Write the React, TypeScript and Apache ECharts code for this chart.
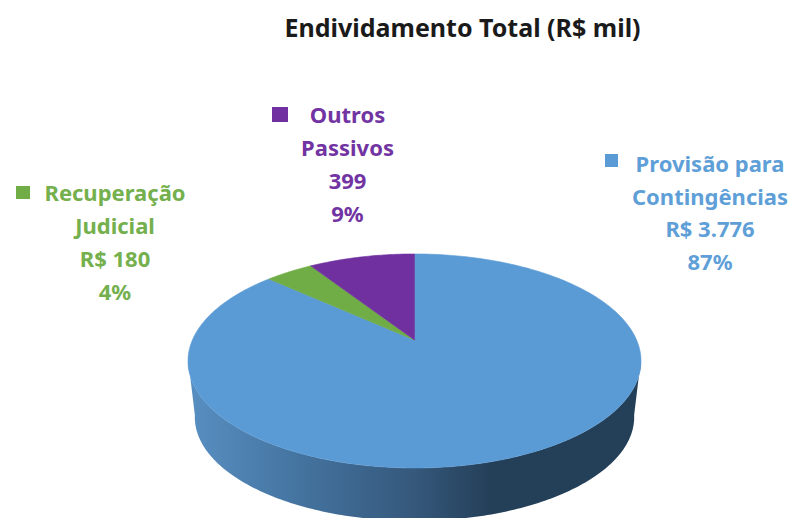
import React, { useEffect, useRef } from "react";
import * as echarts from "echarts";

const titleText = "Endividamento Total (R$ mil)";
const categories = ["Provisão para\nContingências", "Recuperação\nJudicial", "Outros\nPassivos"];
const values = [3776, 180, 399];
const valueLabels = ["R$ 3.776", "R$ 180", "399"];
const percentLabels = ["87%", "4%", "9%"];
const colors = ["#5B9BD5", "#70AD47", "#7030A0"];
const labelColors = ["#5F9FD8", "#74B04D", "#7234A2"];

// Layout of the data labels: centre x, first line centre y, key square
const labelCx = [710, 115, 347.5];
const labelTop = [163, 192, 114];
const keyBox = [
  [605, 154, 13, 13],
  [16, 186, 14, 13],
  [272, 107, 16, 15],
];

// Perspective projection of the unit disc on the screen
const CX = 414.5;
const APEX_Y = 340;
const K = 0.196;
const A = 222.1;
const B = 102.9;
const project = (u: number, v: number, scale = 1, dy = 0) => {
  const w = 1 + K * v;
  return [CX + (scale * A * u) / w, APEX_Y + dy - (scale * B * v) / w];
};

const total = values.reduce((s, v) => s + v, 0);

const renderTop = (params: any, api: any) => {
  const i = params.dataIndex;
  const before = values.slice(0, i).reduce((s, v) => s + v, 0);
  const start = (before / total) * Math.PI * 2;
  const end = ((before + api.value(0)) / total) * Math.PI * 2;
  const steps = Math.max(8, Math.ceil((end - start) * 60));
  const points = [project(0, 0)];
  for (let s = 0; s <= steps; s++) {
    const t = start + ((end - start) * s) / steps;
    points.push(project(Math.sin(t), Math.cos(t)));
  }
  return {
    type: "polygon",
    shape: { points },
    style: { fill: colors[i], stroke: colors[i], lineWidth: 0.6 },
  };
};

const renderSide = () => {
  const from = Math.PI / 2 + Math.asin(K) - 0.02;
  const to = Math.PI * 2 - from;
  const n = 180;
  const upper: number[][] = [];
  const lower: number[][] = [];
  for (let s = 0; s <= n; s++) {
    const t = from + ((to - from) * s) / n;
    upper.push(project(Math.sin(t), Math.cos(t)));
    lower.push(project(Math.sin(t), Math.cos(t), 0.97, 56.8));
  }
  return {
    type: "polygon",
    shape: { points: [...upper, ...lower.reverse()] },
    style: {
      fill: new echarts.graphic.LinearGradient(0, 0, 1, 0, [
        { offset: 0, color: "#588FC2" },
        { offset: 0.25, color: "#44739F" },
        { offset: 0.5, color: "#35587B" },
        { offset: 0.67, color: "#243F58" },
        { offset: 1, color: "#243F58" },
      ]),
    },
  };
};

const LINE_GAP = [32.5, 33, 33];
const FONT = "'Noto Sans', 'Open Sans', sans-serif";

const buildLabels = () => {
  const elements: any[] = [];
  categories.forEach((cat, i) => {
    const lines = [...cat.split("\n"), valueLabels[i], percentLabels[i]];
    lines.forEach((line, j) => {
      elements.push({
        type: "text",
        x: labelCx[i],
        y: labelTop[i] + j * LINE_GAP[i],
        style: {
          text: line,
          fill: labelColors[i],
          font: `bold 22px ${FONT}`,
          textAlign: "center",
          textVerticalAlign: "middle",
        },
      });
    });
    const [x, y, width, height] = keyBox[i];
    elements.push({
      type: "rect",
      shape: { x, y, width, height },
      style: { fill: colors[i] },
    });
  });
  return elements;
};

export default function App() {
  const ref = useRef<HTMLDivElement>(null);
  useEffect(() => {
    document.body.style.margin = "0";
    document.body.style.background = "#ffffff";
    const chart = echarts.init(ref.current!, undefined, { renderer: "svg" });
    chart.setOption({
      animation: false,
      backgroundColor: "#ffffff",
      title: {
        text: titleText,
        left: 457.5,
        top: 9,
        textAlign: "center",
        textStyle: { color: "#1A1A1A", fontFamily: FONT, fontWeight: "bold", fontSize: 25 },
      },
      series: [
        {
          type: "custom",
          coordinateSystem: "none",
          silent: true,
          data: [[total]],
          renderItem: renderSide,
          z: 1,
        },
        {
          type: "custom",
          coordinateSystem: "none",
          silent: true,
          data: values.map((v) => [v]),
          renderItem: renderTop,
          z: 2,
        },
      ],
      graphic: { elements: buildLabels() },
    });
    return () => chart.dispose();
  }, []);
  return <div ref={ref} style={{ width: 793, height: 518, overflow: "hidden" }} />;
}
